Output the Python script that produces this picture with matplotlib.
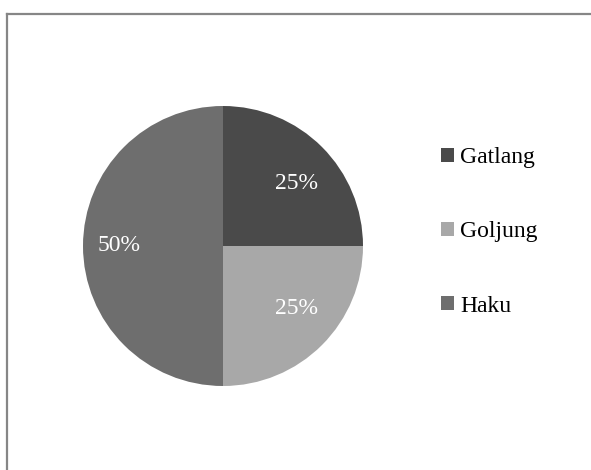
import matplotlib.pyplot as plt
from matplotlib.lines import Line2D
from matplotlib.patches import Patch

categories = ['Gatlang', 'Goljung', 'Haku']
shares = [25, 25, 50]
colours = ['#4a4a4a', '#a8a8a8', '#6e6e6e']

W, H = 591, 470
fig = plt.figure(figsize=(W / 100, H / 100), dpi=100)
fig.patch.set_facecolor('white')

# frame: only top and left edges are visible in the picture
fig.add_artist(Line2D([7 / W, 1], [1 - 14 / H, 1 - 14 / H], transform=fig.transFigure,
                      color='#868686', lw=1.6))
fig.add_artist(Line2D([7 / W, 7 / W], [0, 1 - 14 / H], transform=fig.transFigure,
                      color='#868686', lw=1.6))

# pie centred at (223, 246) px with radius 140 px
ax = fig.add_axes([83 / W, (H - 386) / H, 280 / W, 280 / H])
wedges, texts, autotexts = ax.pie(shares, colors=colours, startangle=90, counterclock=False,
                                  autopct='%1.0f%%', pctdistance=0.72, radius=1,
                                  wedgeprops=dict(linewidth=0))
for t in autotexts:
    x, y = t.get_position()
    t.set_position((x * 1.03, y * 0.88))
    t.set_color('white')
    t.set_fontsize(17)
    t.set_family('Liberation Serif')
ax.set_xlim(-1, 1)
ax.set_ylim(-1, 1)
ax.set_aspect('equal')
ax.axis('off')

handles = [Patch(facecolor=c, edgecolor='none') for c in colours]
fig.legend(handles, categories, loc='center left', bbox_to_anchor=(420 / W, 1 - 232 / H),
           frameon=False, handlelength=0.55, handleheight=0.55, handletextpad=0.25,
           labelspacing=2.25, prop={'family': 'Liberation Serif', 'size': 17})

fig.savefig('out.png', dpi=100)
